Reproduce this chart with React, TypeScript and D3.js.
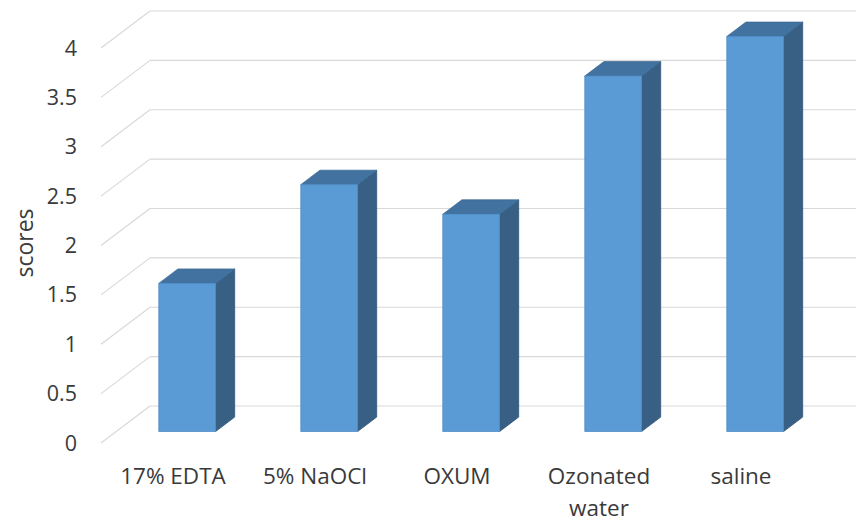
import React from 'react';
import * as d3 from 'd3';

const categories = ['17% EDTA', '5% NaOCl', 'OXUM', 'Ozonated water', 'saline'];
const scores = [1.5, 2.5, 2.2, 3.6, 4.0];
const tickValues = [0, 0.5, 1, 1.5, 2, 2.5, 3, 3.5, 4];

const W = 858, H = 522;
// oblique depth offset of the floor (back wall -> front edge)
const DX = 49, DY = 37;

const App = () => {
  // back wall scales
  const x = d3.scaleBand<string>().domain(categories).range([150, 860]);
  const y = d3.scaleLinear().domain([0, 4]).range([406, 11]);

  // z = 0 at back wall, 1 at front edge
  const proj = (px: number, v: number, z: number): [number, number] => [px - z * DX, y(v) + z * DY];
  const pts = (arr: [number, number][]) => arr.map(p => p.join(',')).join(' ');

  const zFront = 0.69, zBack = 0.3;
  const barW = x.bandwidth() * 0.4;

  return (
    <svg width={W} height={H} style={{ position: 'absolute', left: 0, top: 0, background: '#fff' }}
      fontFamily="'Open Sans', sans-serif">
      {/* gridlines: back wall + left side wall */}
      {tickValues.map(t => {
        const [fx, fy] = proj(150, t, 1);
        return (
          <g key={t}>
            <line x1={150} x2={856} y1={y(t)} y2={y(t)} stroke="#d9d9d9" strokeWidth={1.2} />
            <line x1={fx} y1={fy} x2={150} y2={y(t)} stroke="#d9d9d9" strokeWidth={1.2} />
            <text x={77} y={fy} dy="0.35em" textAnchor="end" fontSize={21.5} fill="#3a3a3a">{t}</text>
          </g>
        );
      })}

      {/* bars */}
      {categories.map((c, i) => {
        const v = scores[i];
        const cx = (x(c) as number) + x.bandwidth() / 2;
        const l = cx - barW / 2, r = cx + barW / 2;
        const fbl = proj(l, 0, zFront), fbr = proj(r, 0, zFront);
        const ftl = proj(l, v, zFront), ftr = proj(r, v, zFront);
        const btl = proj(l, v, zBack), btr = proj(r, v, zBack), bbr = proj(r, 0, zBack);
        return (
          <g key={c} strokeWidth={0.8} strokeLinejoin="round">
            <polygon points={pts([fbr, ftr, btr, bbr])} fill="#385f84" stroke="#2f5579" />
            <polygon points={pts([ftl, ftr, btr, btl])} fill="#4272a0" stroke="#3d6b97" />
            <polygon points={pts([fbl, fbr, ftr, ftl])} fill="#5b9bd5" stroke="#4f8cc6" />
          </g>
        );
      })}

      {/* category labels */}
      {categories.map(c => {
        const [lx] = proj((x(c) as number) + x.bandwidth() / 2, 0, 1);
        const words = c === 'Ozonated water' ? ['Ozonated', 'water'] : [c];
        return (
          <text key={c} x={lx + 1} y={484} textAnchor="middle" fontSize={22.5} fill="#3a3a3a">
            {words.map((w, k) => (
              <tspan key={w} x={lx + 1} dy={k === 0 ? 0 : 32}>{w}</tspan>
            ))}
          </text>
        );
      })}

      <text transform="translate(33,243) rotate(-90)" textAnchor="middle" fontSize={23} fill="#3a3a3a">scores</text>
    </svg>
  );
};

export default App;
